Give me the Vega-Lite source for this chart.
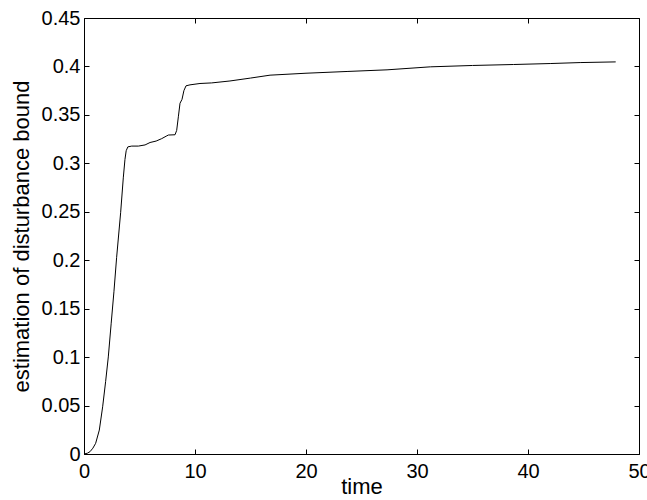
{
  "$schema": "https://vega.github.io/schema/vega-lite/v6.json",
  "autosize": {"type": "none"},
  "padding": {"left": 84, "top": 18, "right": 8, "bottom": 46},
  "width": 555,
  "height": 436,
  "background": "white",
  "config": {
    "view": {"stroke": null},
    "font": "Liberation Sans",
    "axis": {
      "domainColor": "black", "domainWidth": 1,
      "tickColor": "black", "tickWidth": 1,
      "grid": false,
      "labelFont": "Liberation Sans", "labelFontSize": 20, "labelColor": "black",
      "titleFont": "Liberation Sans", "titleFontSize": 22, "titleFontWeight": "normal", "titleColor": "black"
    }
  },
  "data": {"values": [
    {"time": 0, "v": 0},
    {"time": 0.3, "v": 0.0008},
    {"time": 0.54, "v": 0.0024},
    {"time": 0.8, "v": 0.006},
    {"time": 1.05, "v": 0.011},
    {"time": 1.38, "v": 0.0247},
    {"time": 1.68, "v": 0.0487},
    {"time": 1.95, "v": 0.075},
    {"time": 2.19, "v": 0.1002},
    {"time": 2.45, "v": 0.135},
    {"time": 2.7, "v": 0.168},
    {"time": 2.94, "v": 0.203},
    {"time": 3.3, "v": 0.249},
    {"time": 3.54, "v": 0.285},
    {"time": 3.69, "v": 0.304},
    {"time": 3.8, "v": 0.313},
    {"time": 3.95, "v": 0.317},
    {"time": 4.3, "v": 0.3178},
    {"time": 4.9, "v": 0.3178},
    {"time": 5.5, "v": 0.319},
    {"time": 5.95, "v": 0.3215},
    {"time": 6.5, "v": 0.323},
    {"time": 7.0, "v": 0.3255},
    {"time": 7.4, "v": 0.328},
    {"time": 7.6, "v": 0.3292},
    {"time": 8.2, "v": 0.3295},
    {"time": 8.35, "v": 0.334},
    {"time": 8.5, "v": 0.348},
    {"time": 8.65, "v": 0.362},
    {"time": 8.83, "v": 0.366},
    {"time": 9.0, "v": 0.375},
    {"time": 9.19, "v": 0.38},
    {"time": 9.55, "v": 0.381},
    {"time": 10.45, "v": 0.3824},
    {"time": 11.5, "v": 0.383},
    {"time": 13.15, "v": 0.385},
    {"time": 15, "v": 0.388},
    {"time": 16.76, "v": 0.391},
    {"time": 20, "v": 0.393},
    {"time": 23.7, "v": 0.3948},
    {"time": 27.3, "v": 0.3965},
    {"time": 31.2, "v": 0.3996},
    {"time": 35, "v": 0.401},
    {"time": 38.7, "v": 0.402},
    {"time": 42, "v": 0.403},
    {"time": 44.7, "v": 0.404},
    {"time": 47.9, "v": 0.4047}
  ]},
  "resolve": {"axis": {"x": "independent", "y": "independent"}},
  "layer": [
    {
      "mark": {"type": "line", "color": "black", "strokeWidth": 1},
      "encoding": {
        "x": {"field": "time", "type": "quantitative",
          "scale": {"domain": [0, 50], "nice": false, "zero": false},
          "axis": {"orient": "bottom", "title": "time", "values": [0, 10, 20, 30, 40, 50], "format": "d", "labelFlush": false, "labelOverlap": false, "tickSize": -5, "labelPadding": 12, "titlePadding": -5}},
        "y": {"field": "v", "type": "quantitative",
          "scale": {"domain": [0, 0.45], "nice": false, "zero": false},
          "axis": {"orient": "left", "title": "estimation of disturbance bound", "values": [0, 0.05, 0.1, 0.15, 0.2, 0.25, 0.3, 0.35, 0.4, 0.45], "format": "~g", "labelOverlap": false, "tickSize": -5, "labelPadding": 9, "titlePadding": 8}}
      }
    },
    {
      "mark": {"type": "line", "color": "black", "strokeWidth": 1, "opacity": 0},
      "encoding": {
        "x": {"field": "time", "type": "quantitative",
          "scale": {"domain": [0, 50], "nice": false, "zero": false},
          "axis": {"orient": "top", "title": null, "labels": false, "values": [0, 10, 20, 30, 40, 50], "tickSize": -5}},
        "y": {"field": "v", "type": "quantitative",
          "scale": {"domain": [0, 0.45], "nice": false, "zero": false},
          "axis": {"orient": "right", "title": null, "labels": false, "values": [0, 0.05, 0.1, 0.15, 0.2, 0.25, 0.3, 0.35, 0.4, 0.45], "tickSize": -5}}
      }
    }
  ]
}
